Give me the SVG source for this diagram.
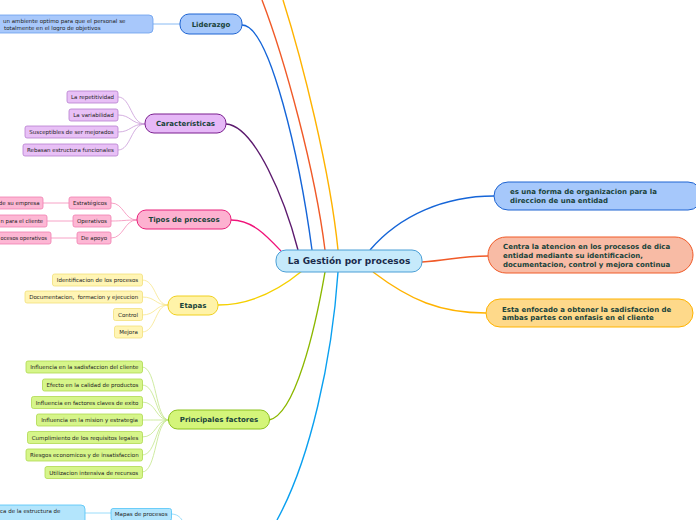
<svg xmlns="http://www.w3.org/2000/svg" width="696" height="520" viewBox="0 0 696 520">
<style>
text{font-family:"DejaVu Sans","Verdana",sans-serif}
.main{font-size:7px;font-weight:bold;fill:#19433a;text-anchor:middle}
.leaf{font-size:5.5px;fill:#222;text-anchor:middle}
.leafL{font-size:5.5px;fill:#222}
.leafE{font-size:5.5px;fill:#222;text-anchor:end}
.rt{font-size:7px;font-weight:bold;fill:#19433a}
.c{fill:none;stroke-width:1.4}
.cl{fill:none;stroke-width:0.8}
.lp{fill:#e8c0f6;stroke:#b67fcf;stroke-width:0.8}
.lk{fill:#fdb7d4;stroke:#f07fb0;stroke-width:0.8}
.ly{fill:#fff5b5;stroke:#f3e07a;stroke-width:0.8}
.lg{fill:#d6f58a;stroke:#aed94f;stroke-width:0.8}
.lb{fill:#b3e5fc;stroke:#4fc3f7;stroke-width:0.8}
</style>
<rect width="696" height="520" fill="#fff"/>
<g id="connectors">
<path class="c" stroke="#f05a28" d="M262,0 C285,60 315,170 325,250"/>
<path class="c" stroke="#ffb300" d="M283,0 C302,60 330,170 338,250"/>
<path class="c" stroke="#1565d8" d="M242,25 C270,25 300,160 312,250"/>
<path class="c" stroke="#5c1a6e" d="M226,124 C255,126 285,200 298,250"/>
<path class="c" stroke="#f0147a" d="M231,220 C252,220 266,235 281,251"/>
<path class="c" stroke="#f5d000" d="M218,305 C255,305 285,285 302,271"/>
<path class="c" stroke="#8cb800" d="M269,420 C295,415 315,330 325,272"/>
<path class="c" stroke="#0aa0f0" d="M338,272 C332,360 310,460 277,520"/>
<path class="c" stroke="#1565d8" d="M370,250 C400,215 445,196 494,196"/>
<path class="c" stroke="#f05a28" d="M422,262 C450,260 460,256 488,256"/>
<path class="c" stroke="#ffb300" d="M373,272 C410,300 440,313 486,313"/>
<path class="cl" stroke="#6aa8f0" d="M153,24 L180,24"/>
<g stroke="#c99ad8">
<path class="cl" d="M118,97 C131,97 131,124 145,124"/>
<path class="cl" d="M118,115 C131,115 131,124 145,124"/>
<path class="cl" d="M118,132 C131,132 131,124 145,124"/>
<path class="cl" d="M118,150 C131,150 131,124 145,124"/>
</g>
<g stroke="#f58cb8">
<path class="cl" d="M111,203 C124,203 124,220 137,220"/>
<path class="cl" d="M111,221 C124,221 124,220 137,220"/>
<path class="cl" d="M111,238 C124,238 124,220 137,220"/>
<path class="cl" d="M43,203 L69,203"/>
<path class="cl" d="M47,221 L73,221"/>
<path class="cl" d="M51,238 L77,238"/>
</g>
<g stroke="#f7e68a">
<path class="cl" d="M142,280 C156,280 155,305 168,305"/>
<path class="cl" d="M142,297 C156,297 155,305 168,305"/>
<path class="cl" d="M142,315 C156,315 155,305 168,305"/>
<path class="cl" d="M142,332 C156,332 155,305 168,305"/>
</g>
<g stroke="#c3e68a">
<path class="cl" d="M142,367 C157,367 155,420 169,420"/>
<path class="cl" d="M142,385 C157,385 155,420 169,420"/>
<path class="cl" d="M142,402 C157,402 155,420 169,420"/>
<path class="cl" d="M142,420 C157,420 155,420 169,420"/>
<path class="cl" d="M142,437 C157,437 155,420 169,420"/>
<path class="cl" d="M142,455 C157,455 155,420 169,420"/>
<path class="cl" d="M142,472 C157,472 155,420 169,420"/>
</g>
<path class="cl" stroke="#81d4fa" d="M85,513 L111,513"/>
<path class="cl" stroke="#81d4fa" d="M171,514 C177,514 180,517 182,520"/>
</g>
<g id="central">
<rect x="276" y="250" width="146" height="22" rx="10" fill="#c6eafb" stroke="#4a9fd6" stroke-width="1"/>
<text x="349" y="264.2" style="font-size:9px;font-weight:bold;fill:#1a2a4a;text-anchor:middle">La Gestión por procesos</text>
</g>
<g id="liderazgo">
<rect x="180" y="14" width="62" height="20" rx="9" fill="#a6c8fb" stroke="#1e64d2" stroke-width="1"/>
<text class="main" x="211" y="26.5">Liderazgo</text>
</g>
<g id="liderazgo-leaf">
<rect x="-10" y="15" width="163" height="18" rx="4" fill="#a8c8fb" stroke="#6aa0ee" stroke-width="0.8"/>
<text class="leafL" x="3" y="22.7">un ambiente optimo para que el personal se</text>
<text class="leafL" x="4" y="30">totalmente en el logro de objetivos</text>
</g>
<g id="caracteristicas">
<rect x="145" y="114" width="81" height="19" rx="9" fill="#e6b8f7" stroke="#7a1f8f" stroke-width="1"/>
<text class="main" x="185.5" y="126">Características</text>
</g>
<g id="car-1"><rect class="lp" x="67" y="91" width="51" height="12" rx="2"/><text class="leaf" x="92.5" y="99">La repetitividad</text></g>
<g id="car-2"><rect class="lp" x="69" y="109" width="49" height="12" rx="2"/><text class="leaf" x="93.5" y="117">La variabilidad</text></g>
<g id="car-3"><rect class="lp" x="25" y="126" width="93" height="12" rx="2"/><text class="leaf" x="71.5" y="134">Susceptibles de ser mejorados</text></g>
<g id="car-4"><rect class="lp" x="23" y="144" width="95" height="12" rx="2"/><text class="leaf" x="70.5" y="152">Rebasan estructura funcionales</text></g>
<g id="tipos">
<rect x="137" y="210" width="94" height="19" rx="9" fill="#fdb1d0" stroke="#e8207a" stroke-width="1"/>
<text class="main" x="184" y="222">Tipos de procesos</text>
</g>
<g id="tip-1"><rect class="lk" x="69" y="197" width="42" height="12" rx="2"/><text class="leaf" x="90" y="205">Estratégicos</text></g>
<g id="tip-2"><rect class="lk" x="73" y="215" width="38" height="12" rx="2"/><text class="leaf" x="92" y="223">Operativos</text></g>
<g id="tip-3"><rect class="lk" x="77" y="232" width="34" height="12" rx="2"/><text class="leaf" x="94" y="240">De apoyo</text></g>
<g id="tip-1a"><rect class="lk" x="-10" y="197" width="53" height="12" rx="2"/><text class="leafE" x="39.5" y="205">de su empresa</text></g>
<g id="tip-2a"><rect class="lk" x="-10" y="215" width="57" height="12" rx="2"/><text class="leafL" x="0.6" y="223" textLength="42.4" lengthAdjust="spacingAndGlyphs">n para el cliente</text></g>
<g id="tip-3a"><rect class="lk" x="-10" y="232" width="61" height="12" rx="2"/><text class="leafL" x="0.6" y="240" textLength="46.4" lengthAdjust="spacingAndGlyphs">ocesos operativos</text></g>
<g id="etapas">
<rect x="168" y="296" width="50" height="19" rx="9" fill="#fff3a8" stroke="#f0d020" stroke-width="1"/>
<text class="main" x="193" y="308">Etapas</text>
</g>
<g id="eta-1"><rect class="ly" x="52.5" y="274" width="90" height="12" rx="2"/><text class="leaf" x="97.5" y="282">Identificacion de los procesos</text></g>
<g id="eta-2"><rect class="ly" x="25" y="291" width="117.5" height="12" rx="2"/><text class="leaf" x="83.7" y="299" xml:space="preserve">Documentacion,  formacion y ejecucion</text></g>
<g id="eta-3"><rect class="ly" x="113.5" y="308.5" width="29" height="12" rx="2"/><text class="leaf" x="128" y="316.5">Control</text></g>
<g id="eta-4"><rect class="ly" x="114.5" y="326" width="28" height="12" rx="2"/><text class="leaf" x="128.5" y="334">Mejora</text></g>
<g id="factores">
<rect x="168.5" y="410" width="101" height="19" rx="9" fill="#d4f57a" stroke="#8cc21e" stroke-width="1"/>
<text class="main" x="219" y="422">Principales factores</text>
</g>
<g id="fac-1"><rect class="lg" x="26" y="361" width="116.5" height="12" rx="2"/><text class="leaf" x="84.3" y="369">Influencia en la sadisfaccion del cliente</text></g>
<g id="fac-2"><rect class="lg" x="42.5" y="379" width="100" height="12" rx="2"/><text class="leaf" x="92.5" y="387">Efecto en la calidad de productos</text></g>
<g id="fac-3"><rect class="lg" x="31.5" y="396.5" width="111" height="12" rx="2"/><text class="leaf" x="87" y="404.5">Influencia en factores claves de exito</text></g>
<g id="fac-4"><rect class="lg" x="36.5" y="414" width="106" height="12" rx="2"/><text class="leaf" x="89.5" y="422">Influencia en la mision y estrategia</text></g>
<g id="fac-5"><rect class="lg" x="27.5" y="431.5" width="115" height="12" rx="2"/><text class="leaf" x="85" y="439.5">Cumplimiento de los requisitos legales</text></g>
<g id="fac-6"><rect class="lg" x="26" y="449" width="116.5" height="12" rx="2"/><text class="leaf" x="84.3" y="457">Riesgos economicos y de insatisfaccion</text></g>
<g id="fac-7"><rect class="lg" x="45" y="466.5" width="97.5" height="12" rx="2"/><text class="leaf" x="93.7" y="474.5">Utilizacion intensiva de recursos</text></g>
<g id="mapas"><rect class="lb" x="111" y="508.5" width="60.5" height="12" rx="2"/><text class="leaf" x="141.2" y="516.3">Mapas de procesos</text></g>
<g id="mapas-leaf"><rect class="lb" x="-10" y="505" width="95" height="20" rx="4"/><text class="leafL" x="0" y="513.2">ca de la estructura de</text></g>
<g id="def-1">
<rect x="494" y="182" width="208" height="28" rx="14" fill="#a6c8fb" stroke="#1e64d2" stroke-width="1"/>
<text class="rt" x="510" y="194.3">es una forma de organizacion para la</text>
<text class="rt" x="510" y="203.3">direccion de una entidad</text>
</g>
<g id="def-2">
<rect x="488" y="237" width="205" height="36" rx="18" fill="#f8bba5" stroke="#f05a28" stroke-width="1"/>
<text class="rt" x="503" y="249.2">Centra la atencion en los procesos de dica</text>
<text class="rt" x="503" y="258.2">entidad mediante su identificacion,</text>
<text class="rt" x="503" y="266.8">documentacion, control y mejora continua</text>
</g>
<g id="def-3">
<rect x="486" y="299" width="207" height="28" rx="14" fill="#fed98a" stroke="#ffb300" stroke-width="1"/>
<text class="rt" x="502" y="311.5">Esta enfocado a obtener la sadisfaccion de</text>
<text class="rt" x="502" y="320.2">ambas partes con enfasis en el cliente</text>
</g>
</svg>
